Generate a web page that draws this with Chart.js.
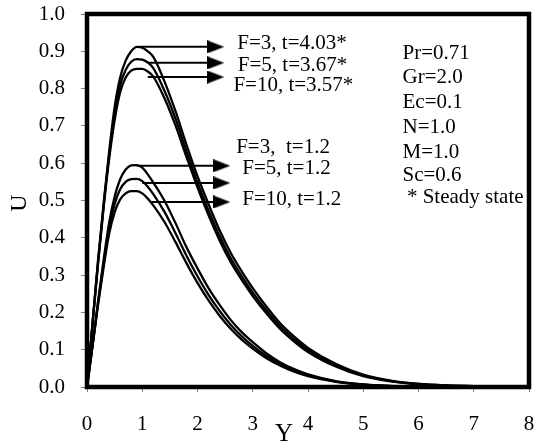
<!DOCTYPE html>
<html lang="en">
<head>
    <meta charset="UTF-8">
    <title>Velocity profiles U vs Y</title>
    <style>
        body { margin: 0; background: #ffffff; }
        #wrap { width: 540px; height: 444px; }
    </style>
    <script src="https://cdn.jsdelivr.net/npm/chart.js"></script>
</head>
<body>
    <div id="wrap"><canvas id="velocityChart" width="540" height="444"></canvas></div>

    <script>
        const yPos = [0, 0.1, 0.2, 0.3, 0.4, 0.5, 0.6, 0.7, 0.8, 0.9, 1.0, 1.1, 1.2, 1.4, 1.6, 1.8,
                      2.0, 2.2, 2.4, 2.6, 2.8, 3.0, 3.25, 3.5, 3.75, 4.0, 4.5, 5.0, 5.5, 6.0, 6.5, 7.0, 7.5, 8.0];

        // steady state profiles
        const steadyF3 = [0, 0.17, 0.34, 0.49, 0.63, 0.75, 0.83, 0.875, 0.90, 0.912, 0.91, 0.90, 0.885, 0.82, 0.74, 0.65,
                          0.565, 0.49, 0.42, 0.36, 0.31, 0.265, 0.215, 0.17, 0.135, 0.105, 0.062, 0.033, 0.017, 0.008, 0.004, 0.002, 0.001, 0];
        const steadyF5 = [0, 0.17, 0.335, 0.485, 0.62, 0.73, 0.81, 0.85, 0.872, 0.879, 0.878, 0.87, 0.855, 0.795, 0.72, 0.632,
                          0.548, 0.473, 0.405, 0.346, 0.297, 0.253, 0.205, 0.162, 0.128, 0.099, 0.058, 0.031, 0.016, 0.008, 0.004, 0.002, 0.001, 0];
        const steadyF10 = [0, 0.17, 0.33, 0.48, 0.61, 0.715, 0.79, 0.83, 0.848, 0.853, 0.853, 0.846, 0.832, 0.775, 0.702, 0.617,
                           0.535, 0.46, 0.393, 0.335, 0.287, 0.244, 0.197, 0.155, 0.122, 0.094, 0.055, 0.029, 0.015, 0.007, 0.003, 0.002, 0.001, 0];

        // profiles at t = 1.2
        const transF3 = [0, 0.11, 0.23, 0.34, 0.44, 0.51, 0.557, 0.583, 0.594, 0.595, 0.588, 0.57, 0.548, 0.50, 0.44, 0.375,
                         0.318, 0.265, 0.22, 0.18, 0.147, 0.12, 0.09, 0.066, 0.048, 0.034, 0.016, 0.007, 0.003, 0.001, 0, 0, 0, 0];
        const transF5 = [0, 0.11, 0.225, 0.33, 0.425, 0.49, 0.53, 0.55, 0.557, 0.558, 0.552, 0.537, 0.517, 0.47, 0.413, 0.352,
                         0.297, 0.247, 0.204, 0.167, 0.136, 0.11, 0.083, 0.061, 0.044, 0.031, 0.015, 0.006, 0.002, 0.001, 0, 0, 0, 0];
        const transF10 = [0, 0.11, 0.22, 0.32, 0.41, 0.468, 0.503, 0.519, 0.525, 0.525, 0.519, 0.505, 0.487, 0.443, 0.389, 0.332,
                          0.279, 0.232, 0.191, 0.156, 0.127, 0.103, 0.077, 0.057, 0.041, 0.029, 0.014, 0.006, 0.002, 0.001, 0, 0, 0, 0];

        // pointer arrows: start Y, end Y (arrowhead centre), U level
        const arrowStart = [0.95, 1.1, 1.1, 0.9, 1.0, 1.17];
        const arrowEnd = [2.33, 2.33, 2.33, 2.44, 2.44, 2.44];
        const arrowLevel = [0.912, 0.869, 0.831, 0.593, 0.547, 0.496];

        const yTickLabels = ['0.0', '0.1', '0.2', '0.3', '0.4', '0.5', '0.6', '0.7', '0.8', '0.9', '1.0'];
        const xTickLabels = ['0', '1', '2', '3', '4', '5', '6', '7', '8'];

        const noteText = ['F=3, t=4.03*', 'F=5, t=3.67*', 'F=10, t=3.57*',
                          'F=3,  t=1.2', 'F=5, t=1.2', 'F=10, t=1.2',
                          'Pr=0.71', 'Gr=2.0', 'Ec=0.1', 'N=1.0', 'M=1.0', 'Sc=0.6', '* Steady state'];
        const notePlace = [[2.72, 0.920], [2.73, 0.863], [2.65, 0.808],
                           [2.70, 0.643], [2.81, 0.587], [2.81, 0.504],
                           [5.71, 0.895], [5.71, 0.831], [5.71, 0.764], [5.71, 0.697], [5.71, 0.630], [5.71, 0.568], [5.79, 0.507]];

        const serif = "'Liberation Serif', 'Times New Roman', serif";
        Chart.defaults.font.family = serif;
        Chart.defaults.font.size = 21;
        Chart.defaults.color = '#000000';

        // filled arrowhead used as a point style
        const head = document.createElement('canvas');
        head.width = 17;
        head.height = 13;
        const hctx = head.getContext('2d');
        hctx.fillStyle = '#000000';
        hctx.beginPath();
        hctx.moveTo(0, 0);
        hctx.lineTo(17, 6.5);
        hctx.lineTo(0, 13);
        hctx.closePath();
        hctx.fill();

        function curve(values) {
            return {
                data: yPos.map((v, i) => ({ x: v, y: values[i] })),
                borderColor: '#000000',
                borderWidth: 2.3,
                pointRadius: 0,
                cubicInterpolationMode: 'monotone',
                fill: false
            };
        }

        const datasets = [steadyF3, steadyF5, steadyF10, transF3, transF5, transF10].map(curve);

        arrowLevel.forEach((u, i) => {
            datasets.push({
                data: [{ x: arrowStart[i], y: u }, { x: arrowEnd[i], y: u }],
                borderColor: '#000000',
                borderWidth: 2,
                pointRadius: [0, 9],
                pointStyle: head,
                fill: false
            });
        });

        const overlay = {
            id: 'overlay',
            afterDraw(chart) {
                const ctx = chart.ctx;
                const a = chart.chartArea;
                const x = chart.scales.x;
                const y = chart.scales.y;
                ctx.save();
                ctx.strokeStyle = '#000000';
                ctx.lineWidth = 4.5;
                ctx.strokeRect(a.left, a.top, a.right - a.left, a.bottom - a.top);

                ctx.fillStyle = '#000000';
                ctx.font = '21px ' + serif;
                ctx.textBaseline = 'middle';
                ctx.textAlign = 'left';
                noteText.forEach((t, i) => {
                    ctx.fillText(t, x.getPixelForValue(notePlace[i][0]), y.getPixelForValue(notePlace[i][1]));
                });

                // axis titles
                ctx.textAlign = 'center';
                ctx.font = '25px ' + serif;
                ctx.fillText('Y', 284, 434);
                ctx.translate(20, 203);
                ctx.rotate(-Math.PI / 2);
                ctx.font = '24px ' + serif;
                ctx.fillText('U', 0, 0);
                ctx.restore();
            }
        };

        new Chart(document.getElementById('velocityChart'), {
            type: 'line',
            data: { datasets: datasets },
            options: {
                responsive: false,
                animation: false,
                devicePixelRatio: 1,
                layout: { padding: { top: 14, right: 5, left: 0, bottom: 0 } },
                plugins: { legend: { display: false }, tooltip: { enabled: false } },
                scales: {
                    x: {
                        type: 'linear',
                        min: 0,
                        max: 8,
                        border: { display: false },
                        grid: { drawOnChartArea: false, tickLength: 5, color: '#808080', lineWidth: 1 },
                        ticks: { stepSize: 1, padding: 20, callback: (v, i) => xTickLabels[i] },
                        afterFit: (scale) => {
                            scale.height = 57;
                            scale.paddingLeft = 0;
                            scale.paddingRight = 0;
                        }
                    },
                    y: {
                        min: 0,
                        max: 1,
                        border: { display: false },
                        grid: { drawOnChartArea: false, tickLength: 6, color: '#808080', lineWidth: 1 },
                        ticks: { stepSize: 0.1, padding: 16, callback: (v, i) => yTickLabels[i] },
                        afterFit: (scale) => {
                            scale.width = 87;
                            scale.paddingTop = 0;
                            scale.paddingBottom = 0;
                        }
                    }
                }
            },
            plugins: [overlay]
        });
    </script>
</body>
</html>
